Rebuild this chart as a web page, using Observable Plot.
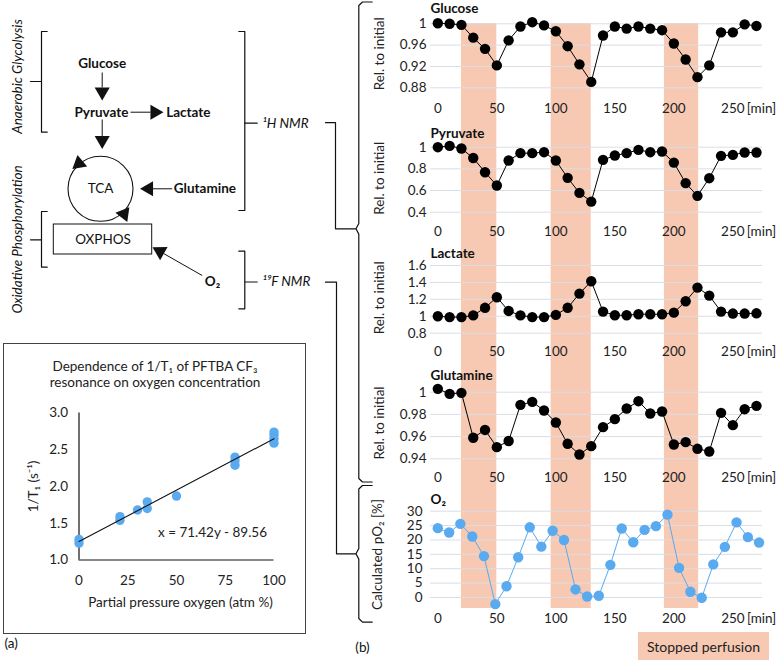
<!DOCTYPE html>
<html><head><meta charset="utf-8">
<script src="https://cdn.jsdelivr.net/npm/d3@7"></script>
<script src="https://cdn.jsdelivr.net/npm/@observablehq/plot@0.6"></script>
<style>
body{margin:0;background:#fff;}
#root{position:relative;width:779px;height:662px;overflow:hidden;font-family:Lato,sans-serif;background:#fff;}
#root svg{position:absolute;}
#inset{position:absolute;left:3px;top:343px;width:303px;height:291px;border:1.5px solid #444;box-sizing:border-box;}
#inset svg{position:absolute;left:0;top:0;}
#legend{position:absolute;left:638px;top:632px;width:131px;height:28px;background:#f7c9b2;font:14px Lato,sans-serif;color:#222;display:flex;align-items:center;justify-content:center;}
</style></head><body><div id="root"><div id="inset"></div><div id="legend">Stopped perfusion</div></div>
<script>
// ---------------- DATA ----------------
const times = [0,10,20,30,40,50,60,70,80,90,100,110,120,130,140,150,160,170,180,190,200,210,220,230,240,250,260,270];
const glucose = [1.001,1.0,0.998,0.974,0.953,0.922,0.969,0.995,1.003,0.997,0.986,0.958,0.924,0.891,0.978,0.995,0.991,0.995,0.991,0.988,0.963,0.933,0.90,0.922,0.984,0.984,0.999,0.996];
const pyruvate = [1.0,1.012,0.988,0.90,0.769,0.646,0.877,0.945,0.945,0.954,0.877,0.717,0.578,0.498,0.883,0.923,0.945,0.975,0.954,0.96,0.858,0.668,0.551,0.714,0.92,0.929,0.951,0.951];
const lactate = [1.0,0.99,0.99,1.01,1.10,1.225,1.063,1.01,0.99,0.99,1.016,1.10,1.268,1.414,1.055,1.012,1.012,1.024,1.024,1.024,1.043,1.177,1.339,1.244,1.055,1.032,1.032,1.035];
const glutamine = [1.003,0.9985,0.9994,0.959,0.966,0.9505,0.956,0.9886,0.9913,0.9835,0.9727,0.9535,0.9439,0.9514,0.9685,0.9757,0.9853,0.9919,0.9808,0.9826,0.9529,0.955,0.949,0.9466,0.9814,0.9703,0.9847,0.9877];
const o2Times = [0,9.6,19.1,29.2,39.1,48.7,58.2,68.1,77.9,87.7,97.3,106.9,116.7,126.5,136.4,146.2,155.8,165.6,175.2,184.8,194.6,204.4,214,223.6,233.4,243.2,253.1,262.7,272.2];
const o2Values = [24.1,22.6,25.6,21.2,14.4,-2.3,3.9,14.0,24.4,17.7,23.2,20.0,2.8,0.35,0.6,11.35,24.0,19.2,23.5,24.8,28.8,10.3,2.0,-0.1,11.5,17.6,26.1,21.0,19.1];
const stoppedStart = [20,96,192];
const stoppedEnd = [50,130,221];
const xTicks = [0,50,100,150,200,250];
const glucoseTicks = [0.88,0.92,0.96,1];
const pyruvateTicks = [0.4,0.6,0.8,1];
const lactateTicks = [0.8,1,1.2,1.4,1.6];
const glutamineTicks = [0.94,0.96,0.98,1];
const o2Ticks = [0,5,10,15,20,25,30];

// inset calibration data
const calPressure = [0,0,21,21,30,35,35,50,80,80,80,100,100,100,100];
const calRate = [1.23,1.28,1.54,1.59,1.68,1.70,1.79,1.87,2.29,2.35,2.40,2.59,2.65,2.70,2.74];
const calXTicks = [0,25,50,75,100];
const calYTicks = [1.0,1.5,2.0,2.5,3.0];

// ---------------- STYLE / LAYOUT ----------------
const BLUE = "#5aaaf0", SHADE = "#f7c9b2", GRID = "#d9dee6", INK = "#222";
const FONT = "Lato, sans-serif";
const root = document.getElementById("root");
function place(svg, left, top, parent = root) {
  svg.style.position = "absolute";
  svg.style.left = left + "px";
  svg.style.top = top + "px";
  parent.appendChild(svg);
}
const baseStyle = {background: "transparent", overflow: "visible", fontFamily: FONT, fontSize: "13px", color: INK};
const X_DOMAIN = [-6.2, 275.1];

// shading behind all panels
const stopped = stoppedStart.map((s, i) => ({s, e: stoppedEnd[i]}));
place(Plot.plot({
  width: 419, height: 662, marginLeft: 70, marginRight: 17, marginTop: 23, marginBottom: 54,
  style: baseStyle, x: {domain: X_DOMAIN, axis: null},
  marks: [Plot.rect(stopped, {x1: "s", x2: "e", fill: SHADE})]
}), 360, 0);

// ---------------- DIAGRAM (pixel layout) ----------------
const bracketPaths = [
  {id: "ana", pts: [[46.7,31],[41,31],[41,131.7],[46.7,131.7]]},
  {id: "anaT", pts: [[30,81],[41,81]]},
  {id: "oxi", pts: [[46.7,211],[41,211],[41,266.7],[46.7,266.7]]},
  {id: "oxiT", pts: [[30,239.3],[41,239.3]]},
  {id: "h", pts: [[238.3,31],[244.3,31],[244.3,210],[238.3,210]]},
  {id: "hT", pts: [[244.3,122.7],[256.7,122.7]]},
  {id: "f", pts: [[238.3,250.7],[244.3,250.7],[244.3,308.3],[238.3,308.3]]},
  {id: "fT", pts: [[244.3,281.5],[256.7,281.5]]},
  {id: "hC", pts: [[325,122.2],[335,122.2],[335,228.3],[355,228.3]]},
  {id: "fC", pts: [[325,281.7],[336,281.7],[336,553.3],[355,553.3]]},
  {id: "brace1", pts: [[371.7,1.5],[362,1.5],[358.3,5],[358.3,223],[355.5,228.3],[358.3,233.6],[358.3,478],[362,481.5],[371.7,481.5]]},
  {id: "brace2", pts: [[371.7,485],[362,485],[358.3,488.5],[358.3,548],[355.5,553.3],[358.3,558.6],[358.3,618],[362,621.7],[371.7,621.7]]}
];
const pathPts = bracketPaths.flatMap(p => p.pts.map(([x, y]) => ({id: p.id, x, y})));
const arrows = [
  {x1: 101.7, y1: 72, x2: 101.7, y2: 100},
  {x1: 130, y1: 111.7, x2: 163, y2: 111.7},
  {x1: 101.7, y1: 119, x2: 101.7, y2: 148.5},
  {x1: 171.7, y1: 188.3, x2: 139.5, y2: 188.3},
  {x1: 201.7, y1: 275, x2: 152, y2: 246.7}
];
const HEAD = 13, CENT = 8.7;
const shafts = arrows.map(a => {
  const L = Math.hypot(a.x2 - a.x1, a.y2 - a.y1), ux = (a.x2 - a.x1) / L, uy = (a.y2 - a.y1) / L;
  return {x1: a.x1, y1: a.y1, x2: a.x2 - ux * HEAD, y2: a.y2 - uy * HEAD};
});
const heads = arrows.map(a => {
  const L = Math.hypot(a.x2 - a.x1, a.y2 - a.y1), ux = (a.x2 - a.x1) / L, uy = (a.y2 - a.y1) / L;
  return {x: a.x2 - ux * CENT, y: a.y2 - uy * CENT, rot: Math.atan2(ux, -uy) * 180 / Math.PI};
});
// arrowheads on the TCA cycle
heads.push({x: 78.5, y: 163, rot: -130});
heads.push({x: 123.5, y: 213.5, rot: 38});

const boldCentered = [
  {t: "Glucose", x: 101.7, y: 63.3},
  {t: "Pyruvate", x: 101, y: 111.7},
  {t: "O₂", x: 212, y: 281}
];
const boldStart = [
  {t: "Lactate", x: 165.7, y: 111.7},
  {t: "Glutamine", x: 173.3, y: 188.3}
];
const plainLabels = [
  {t: "TCA", x: 100, y: 188.3},
  {t: "OXPHOS", x: 102.5, y: 239},
  {t: "(b)", x: 362, y: 646.7}
];
const italicLabels = [
  {t: "¹H NMR", x: 261.7, y: 122.7},
  {t: "¹⁹F NMR", x: 261.7, y: 281.5}
];
const sideLabels = [
  {t: "Anaerobic Glycolysis", x: 16.7, y: 76},
  {t: "Oxidative Phosphorylation", x: 16.7, y: 239}
];

place(Plot.plot({
  width: 779, height: 662, margin: 0, style: baseStyle,
  x: {type: "identity"}, y: {type: "identity"},
  marks: [
    Plot.line(pathPts, {x: "x", y: "y", z: "id", stroke: "#111", strokeWidth: 1.2}),
    Plot.link(shafts, {x1: "x1", y1: "y1", x2: "x2", y2: "y2", stroke: "#111", strokeWidth: 1}),
    Plot.dot([{x: 100, y: 188.3}], {x: "x", y: "y", r: 32.5, stroke: "#111", strokeWidth: 1.1, fill: "none"}),
    Plot.rect([{x1: 53.3, x2: 151.7, y1: 224, y2: 254}], {x1: "x1", x2: "x2", y1: "y1", y2: "y2", stroke: "#111", fill: "white"}),
    Plot.dot(heads, {x: "x", y: "y", rotate: "rot", symbol: "triangle", r: 5.6, fill: "#111", stroke: "none"}),
    Plot.text(boldCentered, {x: "x", y: "y", text: "t", textAnchor: "middle", fontWeight: "bold", fontSize: 13.5, fill: "#111"}),
    Plot.text(boldStart, {x: "x", y: "y", text: "t", textAnchor: "start", fontWeight: "bold", fontSize: 13.5, fill: "#111"}),
    Plot.text(plainLabels, {x: "x", y: "y", text: "t", textAnchor: "middle", fontSize: 13.5, fill: "#111"}),
    Plot.text(italicLabels, {x: "x", y: "y", text: "t", textAnchor: "start", fontStyle: "italic", fontSize: 13.5, fill: "#111"}),
    Plot.text(sideLabels, {x: "x", y: "y", text: "t", rotate: -90, textAnchor: "middle", fontStyle: "italic", fontSize: 13.5, fill: "#111"}),
    Plot.text(["(a)"], {x: 4, y: 643, textAnchor: "start", fontSize: 13.5, fill: "#111"})
  ]
}), 0, 0);

// ---------------- TIME-SERIES PANELS ----------------
const panels = [
  {title: "Glucose", times, values: glucose, ticks: glucoseTicks, label: "Rel. to initial", color: "#000"},
  {title: "Pyruvate", times, values: pyruvate, ticks: pyruvateTicks, label: "Rel. to initial", color: "#000"},
  {title: "Lactate", times, values: lactate, ticks: lactateTicks, label: "Rel. to initial", color: "#000"},
  {title: "Glutamine", times, values: glutamine, ticks: glutamineTicks, label: "Rel. to initial", color: "#000"},
  {title: "O₂", times: o2Times, values: o2Values, ticks: o2Ticks, label: "Calculated pO₂ [%]", color: BLUE}
];
const panelLayout = [
  {frameTop: 18, frameBottom: 92.7, ref: [1, 23.3, 0.88, 87.3], titleY: 8, tickPad: 4, labelDx: -50.7, labelDy: -2},
  {frameTop: 140, frameBottom: 215.7, ref: [1, 146.7, 0.4, 211.7], titleY: 132.7, tickPad: 4, labelDx: -50.7, labelDy: 0},
  {frameTop: 259, frameBottom: 335.7, ref: [1.6, 265, 0.8, 332.7], titleY: 252.7, tickPad: 4, labelDx: -50.7, labelDy: 0},
  {frameTop: 383, frameBottom: 462, ref: [1, 391.7, 0.94, 458.3], titleY: 375, tickPad: 4, labelDx: -50.7, labelDy: 0},
  {frameTop: 505, frameBottom: 603, ref: [30, 510.7, 0, 597], titleY: 499, tickPad: 8, labelDx: -53, labelDy: 0}
];
panels.forEach((p, i) => {
  const L = panelLayout[i];
  const [v1, p1, v2, p2] = L.ref, k = (p2 - p1) / (v2 - v1);
  const yTop = v1 + (L.frameTop - p1) / k, yBot = v1 + (L.frameBottom - p1) / k;
  const mt = 18, mb = 26;
  const data = p.times.map((t, j) => ({t, v: p.values[j]}));
  const svg = Plot.plot({
    width: 419, height: L.frameBottom - L.frameTop + mt + mb,
    marginLeft: 70, marginRight: 17, marginTop: mt, marginBottom: mb,
    style: baseStyle,
    x: {domain: X_DOMAIN},
    y: {domain: [yBot, yTop]},
    marks: [
      Plot.gridY(p.ticks, {stroke: GRID, strokeOpacity: 1, strokeWidth: 1}),
      Plot.axisY(p.ticks, {tickSize: 0, tickPadding: L.tickPad, tickFormat: d => String(d), label: null, fontSize: 13.5}),
      Plot.axisX(xTicks, {tickSize: 0, tickPadding: 10, label: null, fontSize: 13.5}),
      Plot.text(["[min]"], {x: 250, frameAnchor: "bottom", dx: 14, dy: 10, textAnchor: "start", lineAnchor: "top", fontSize: 13.5, fill: INK}),
      Plot.line(data, {x: "t", y: "v", stroke: p.color, strokeWidth: 1}),
      Plot.dot(data, {x: "t", y: "v", r: 5.2, fill: p.color, stroke: "none"}),
      Plot.text([p.title], {frameAnchor: "top-left", dy: L.titleY - L.frameTop, textAnchor: "start", lineAnchor: "middle", fontWeight: "bold", fontSize: 13.5, fill: "#111"}),
      Plot.text([p.label], {frameAnchor: "left", rotate: -90, textAnchor: "middle", dx: L.labelDx, dy: L.labelDy, fontSize: 13.5, fill: INK})
    ]
  });
  place(svg, 360, L.frameTop - mt);
});

// ---------------- INSET: calibration ----------------
const cal = calPressure.map((x, i) => ({x, y: calRate[i]}));
const inset = Plot.plot({
  width: 300, height: 288,
  marginLeft: 74.5, marginRight: 30.5, marginTop: 68.5, marginBottom: 72.5,
  style: baseStyle,
  x: {domain: [0, 100]},
  y: {domain: [1, 3]},
  marks: [
    Plot.axisY(calYTicks, {tickSize: 0, tickPadding: 11, tickFormat: d3.format(".1f"), label: null, fontSize: 13.5}),
    Plot.axisX(calXTicks, {tickSize: 0, tickPadding: 15, label: null, fontSize: 13.5}),
    Plot.ruleX([0], {y1: 1, y2: 3, stroke: "#111", strokeWidth: 1.2}),
    Plot.ruleY([1], {x1: 0, x2: 100, stroke: "#111", strokeWidth: 1.2}),
    Plot.dot(cal, {x: "x", y: "y", r: 4.7, fill: BLUE, stroke: "none"}),
    Plot.linearRegressionY(cal, {x: "x", y: "y", stroke: "#111", strokeWidth: 1.1, ci: 0}),
    Plot.text(["x = 71.42y - 89.56"], {frameAnchor: "bottom-right", dx: -7, dy: -27, textAnchor: "end", lineAnchor: "middle", fontSize: 13.5, fill: INK}),
    Plot.text(["Dependence of 1/T₁ of PFTBA CF₃"], {frameAnchor: "top", dx: -21.5, dy: -46, textAnchor: "middle", lineAnchor: "middle", fontSize: 13.5, fill: INK}),
    Plot.text(["resonance on oxygen concentration"], {frameAnchor: "top", dx: -21.5, dy: -30, textAnchor: "middle", lineAnchor: "middle", fontSize: 13.5, fill: INK}),
    Plot.text(["Partial pressure oxygen (atm %)"], {frameAnchor: "bottom", dx: 4, dy: 43, textAnchor: "middle", lineAnchor: "middle", fontSize: 13.5, fill: INK}),
    Plot.text(["1/T₁ (s⁻¹)"], {frameAnchor: "left", rotate: -90, textAnchor: "middle", dx: -45, fontSize: 13.5, fill: INK})
  ]
});
place(inset, 0, 0, document.getElementById("inset"));
</script>
</body></html>
